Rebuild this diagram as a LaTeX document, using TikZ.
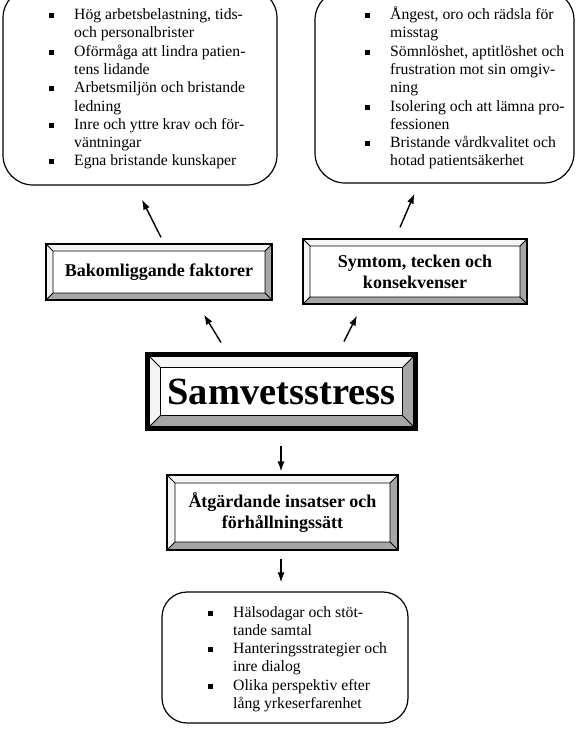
\documentclass[tikz,border=0pt]{standalone}
\usepackage{fontspec}
\setmainfont{Liberation Serif}
\usetikzlibrary{arrows.meta,calc}
\colorlet{bevlight}{gray!8}
\colorlet{bevdark}{gray!70}
\newcommand{\blt}{\makebox[25pt][l]{\rule[1.5pt]{5pt}{5pt}}}
\newcommand{\itind}{\hspace*{25pt}}
\begin{document}
\begin{tikzpicture}[x=1pt,y=1pt,
				frame/.style={draw,line width=1.2pt,rounded corners=30pt},
				lst/.style={inner sep=0pt,align=left,anchor=west,font=\fontsize{15.7}{18.3}\selectfont},
				bevel size/.store in=\bw, bevel size=7,
				bevel/.style={draw,line width=1.2pt,fill=white,inner sep=0pt,align=center,
					font=\bfseries\fontsize{18}{21}\selectfont,
					path picture={
						\path (path picture bounding box.south west) coordinate (bsw)
							(path picture bounding box.north east) coordinate (bne);
						\fill[bevdark] (bsw) -| (bne) -- ++(-\bw,-\bw) |- ($(bsw)+(\bw,\bw)$) -- cycle;
						\fill[bevlight] (bsw) |- (bne) -- ++(-\bw,-\bw) -| ($(bsw)+(\bw,\bw)$) -- cycle;
						\draw[line width=0.8pt] ($(bsw)+(\bw,\bw)$) rectangle ($(bne)-(\bw,\bw)$)
							(bsw) -- ++(\bw,\bw) (bne) -- ++(-\bw,-\bw)
							(bsw |- bne) -- ++(\bw,-\bw) (bne |- bsw) -- ++(-\bw,\bw);
					}},
				arr/.style={-{Latex[length=10pt,width=7pt]},line width=1.4pt}]
			\useasboundingbox (0,0) rectangle (576,-737);
			\node [frame,minimum width=274,minimum height=197] (causesBox) at (140,-86.5) {};
			\node [lst] (causesList) at (49,-89) {\blt Hög arbetsbelastning, tids-\\
				\itind och personalbrister\\
				\blt Oförmåga att lindra patien-\\
				\itind tens lidande\\
				\blt Arbetsmiljön och bristande\\
				\itind ledning\\
				\blt Inre och yttre krav och för-\\
				\itind väntningar\\
				\blt Egna bristande kunskaper};
			\node [frame,minimum width=259,minimum height=193] (signsBox) at (444.5,-86.5) {};
			\node [lst] (signsList) at (365,-88) {\blt Ångest, oro och rädsla för\\
				\itind misstag\\
				\blt Sömnlöshet, aptitlöshet och\\
				\itind frustration mot sin omgiv-\\
				\itind ning\\
				\blt Isolering och att lämna pro-\\
				\itind fessionen\\
				\blt Bristande vårdkvalitet och\\
				\itind hotad patientsäkerhet};
			\node [bevel,minimum width=226,minimum height=56] (causes) at (159,-272) {Bakomliggande faktorer};
			\node [bevel,minimum width=224,minimum height=65] (signs) at (415,-271.5) {Symtom, tecken och\\konsekvenser};
			\node [bevel,bevel size=13,line width=5pt,minimum width=268,minimum height=74,
				font=\bfseries\fontsize{38.5}{40}\selectfont] (stress) at (281.5,-391.5) {Samvetsstress};
			\node [bevel,bevel size=8,minimum width=231,minimum height=75] (measures) at (282.5,-512.5) {Åtgärdande insatser och\\förhållningssätt};
			\node [frame,rounded corners=25pt,minimum width=246,minimum height=131] (measuresBox) at (285,-657.5) {};
			\node [lst] (measuresList) at (208,-659) {\blt Hälsodagar och stöt-\\
				\itind tande samtal\\
				\blt Hanteringsstrategier och\\
				\itind inre dialog\\
				\blt Olika perspektiv efter\\
				\itind lång yrkeserfarenhet};
			\draw [arr] ([shift={(2,6)}]causes.north) -- ([shift={(2,-14)}]causesBox.south);
			\draw [arr] ([shift={(-15,11)}]signs.north) -- ([shift={(-30,-10)}]signsBox.south);
			\draw [arr] ([shift={(-60.5,9.5)}]stress.north) -- ([shift={(45,-14)}]causes.south);
			\draw [arr] ([shift={(62.5,10.5)}]stress.north) -- ([shift={(-58,-11)}]signs.south);
			\draw [arr] ([shift={(-0.5,-14.5)}]stress.south) -- ([shift={(-1.5,3)}]measures.north);
			\draw [arr] ([shift={(-1.5,-8)}]measures.south) -- ([shift={(-4,9)}]measuresBox.north);
		\end{tikzpicture}
\end{document}
